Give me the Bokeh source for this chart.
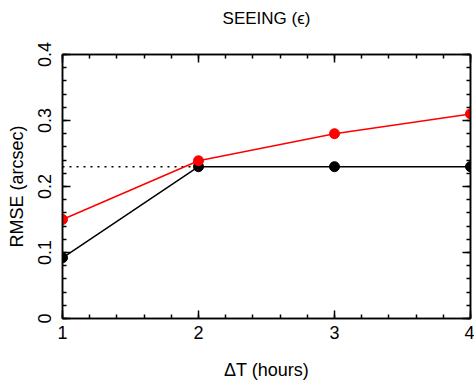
from bokeh.plotting import figure
from bokeh.models import LinearAxis, Range1d, FixedTicker
from bokeh.embed import file_html
from bokeh.resources import INLINE

# Data
dt_hours = [1, 2, 3, 4]
rmse_black = [0.092, 0.23, 0.23, 0.23]
rmse_red = [0.15, 0.239, 0.28, 0.31]
ref_x = [1, 2]
ref_y = [0.23, 0.23]
x_ticks = [1, 2, 3, 4]
x_minor = [1 + i * 0.2 for i in range(16)]
y_ticks = [0, 0.1, 0.2, 0.3, 0.4]
y_minor = [i * 0.02 for i in range(21)]
title_text = "SEEING (ϵ)"

FONT = "Liberation Sans"

p = figure(width=474, height=388, output_backend="svg", toolbar_location=None,
           x_range=Range1d(1, 4), y_range=Range1d(0, 0.4),
           min_border_left=62, min_border_right=4, min_border_top=54, min_border_bottom=70)

p.xgrid.visible = False
p.ygrid.visible = False
p.outline_line_color = "black"
p.outline_line_width = 1.5

def style_axis(ax, ticks, minor, labels=True):
    ax.ticker = FixedTicker(ticks=ticks, minor_ticks=minor)
    ax.axis_line_color = "black"
    ax.axis_line_width = 1.5
    ax.major_tick_in = 8
    ax.major_tick_out = 0
    ax.minor_tick_in = 4
    ax.minor_tick_out = 0
    ax.major_tick_line_width = 1.5
    ax.minor_tick_line_width = 1.5
    ax.major_tick_line_color = "black"
    ax.minor_tick_line_color = "black"
    ax.major_label_text_font = FONT
    ax.major_label_text_font_size = "18px"
    ax.major_label_text_color = "black"
    if not labels:
        ax.major_label_overrides = {t: "" for t in ticks}
        ax.major_label_standoff = 0
        ax.major_label_text_font_size = "1px"
        ax.axis_label_standoff = 0

style_axis(p.xaxis[0], x_ticks, x_minor)
style_axis(p.yaxis[0], y_ticks, y_minor)
p.yaxis[0].major_label_orientation = "vertical"
p.xaxis[0].major_label_standoff = 7
p.yaxis[0].major_label_standoff = 12
p.xaxis[0].axis_label = "ΔT (hours)"
p.yaxis[0].axis_label = "RMSE (arcsec)"
for ax in (p.xaxis[0], p.yaxis[0]):
    ax.axis_label_text_font = FONT
    ax.axis_label_text_font_style = "normal"
    ax.axis_label_text_font_size = "18px"
    ax.axis_label_text_color = "black"
p.xaxis[0].axis_label_standoff = 18
p.yaxis[0].axis_label_standoff = 8

# Top axis: carries the ticks and the chart title as its label
top = LinearAxis()
style_axis(top, x_ticks, x_minor, labels=False)
top.axis_label = title_text
top.axis_label_text_font = FONT
top.axis_label_text_font_style = "normal"
top.axis_label_text_font_size = "17px"
top.axis_label_text_color = "black"
top.axis_label_standoff = 27
p.add_layout(top, "above")

right = LinearAxis()
style_axis(right, y_ticks, y_minor, labels=False)
p.add_layout(right, "right")

p.line(ref_x, ref_y, line_color="black", line_width=1.5, line_dash="2 5")
p.line(dt_hours, rmse_black, line_color="black", line_width=1.5)
p.scatter(dt_hours, rmse_black, size=10, fill_color="black", line_color="black")
p.line(dt_hours, rmse_red, line_color="red", line_width=1.5)
p.scatter(dt_hours, rmse_red, size=10, fill_color="red", line_color="red")

open("out.html", "w").write(file_html(p, INLINE))
